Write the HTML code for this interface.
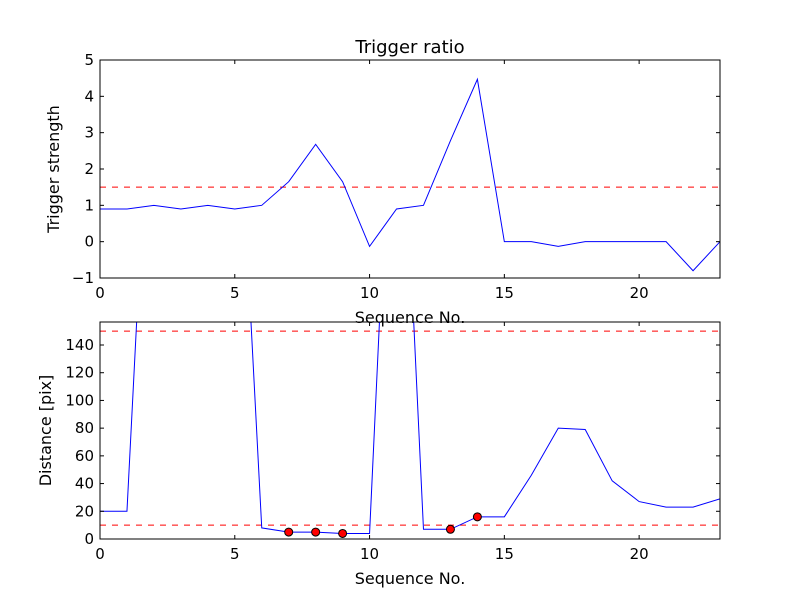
<!DOCTYPE html>
<html><head><meta charset="utf-8"><style>
body{margin:0;background:#fff}
svg text{font-family:"DejaVu Sans","Liberation Sans",sans-serif;fill:#000}
</style></head><body>
<svg id="c" width="800" height="600">
<rect width="800" height="600" fill="#fff"/>
<defs>
<clipPath id="cp1"><rect x="100" y="60" width="620" height="218"/></clipPath>
<clipPath id="cp2"><rect x="100" y="322" width="620" height="217"/></clipPath>
</defs>
</svg>
<script>
const seq=[0,1,2,3,4,5,6,7,8,9,10,11,12,13,14,15,16,17,18,19,20,21,22,23];
const strength=[0.9,0.9,1.0,0.9,1.0,0.9,1.0,1.65,2.68,1.65,-0.13,0.9,1.0,2.78,4.47,0,0,-0.13,0,0,0,0,-0.8,0];
const distance=[20,20,400,400,400,380,8,5,5,4,4,420,7,7,16,16,46,80,79,42,27,23,23,29];
const markerIdx=[7,8,9,13,14];
const strengthThreshold=[1.5];
const distThresholds=[150,10];
const xTicks=[0,5,10,15,20];
const y1Ticks=[-1,0,1,2,3,4,5];
const y2Ticks=[0,20,40,60,80,100,120,140];
const svg=document.getElementById('c');const NS='http://www.w3.org/2000/svg';
function mk(t,a,p){const e=document.createElementNS(NS,t);for(const k in a)e.setAttribute(k,a[k]);(p||svg).appendChild(e);return e;}
const xs=v=>100+v*620/23;
function panel(top,h,ymin,ymax,yt,vals,ylabel,clip,th,title,name,ylx){
  const ys=v=>top+h-(v-ymin)*h/(ymax-ymin);
  const g=mk('g',{});
  const cg=mk('g',{'clip-path':'url(#'+clip+')'},g);
  th.forEach(t=>{const l=mk('line',{x1:100,x2:720,y1:ys(t),y2:ys(t),stroke:'#f00','stroke-dasharray':'6,6'},cg);});
  const p=mk('polyline',{points:vals.map((v,i)=>xs(seq[i])+','+ys(v)).join(' '),fill:'none',stroke:'#00f','stroke-width':1},cg);
  
  const f=mk('rect',{x:100,y:top,width:620,height:h,fill:'none',stroke:'#000'},g);
  
  xTicks.forEach(t=>{const x=xs(t);mk('line',{x1:x,x2:x,y1:top+h,y2:top+h-4,stroke:'#000'},g);mk('line',{x1:x,x2:x,y1:top,y2:top+4,stroke:'#000'},g);
    const tx=mk('text',{x:x,y:top+h+20,'text-anchor':'middle','font-size':15},g);tx.textContent=t;});
  yt.forEach(t=>{const y=ys(t);mk('line',{x1:100,x2:104,y1:y,y2:y,stroke:'#000'},g);mk('line',{x1:720,x2:716,y1:y,y2:y,stroke:'#000'},g);
    const tx=mk('text',{x:94,y:y+5,'text-anchor':'end','font-size':15},g);tx.textContent=t<0?'\u2212'+(-t):t;});
  const xl=mk('text',{x:410,y:top+h+45,'text-anchor':'middle','font-size':16},g);xl.textContent='Sequence No.';
  const yl=mk('text',{x:0,y:0,'text-anchor':'middle','font-size':16,transform:'translate('+ylx+','+(top+h/2)+') rotate(-90)'},g);yl.textContent=ylabel;
  if(title){const tt=mk('text',{x:410,y:top-7,'text-anchor':'middle','font-size':18},g);tt.textContent=title;}
  return ys;
}
panel(60,218,-1,5,y1Ticks,strength,'Trigger strength','cp1',strengthThreshold,'Trigger ratio','top-panel',59);
const ys2=panel(322,217,0,156.6,y2Ticks,distance,'Distance [pix]','cp2',distThresholds,null,'bottom-panel',51);
markerIdx.forEach(i=>{const c=mk('circle',{cx:xs(seq[i]),cy:ys2(distance[i]),r:4,fill:'#f00',stroke:'#000','stroke-width':1});
  
  });
</script>
</body></html>
